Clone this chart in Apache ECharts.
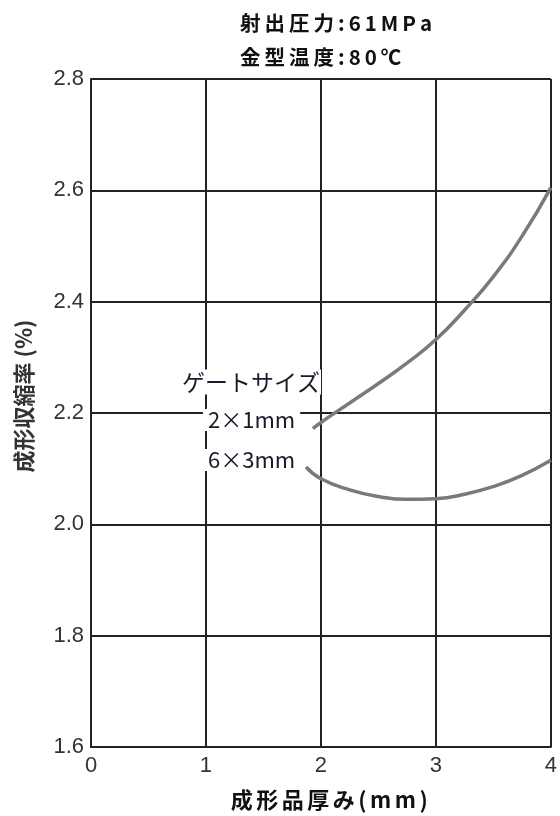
<!DOCTYPE html>
<html>
<head>
<meta charset="utf-8">
<script src="https://cdn.jsdelivr.net/npm/echarts@6/dist/echarts.min.js"></script>
<style>
  html, body { margin: 0; padding: 0; background: #fff; }
  #main { width: 560px; height: 816px; }
</style>
</head>
<body>
<div id="main"></div>
<script>
// 成形品厚み (mm)
var thickness = [0, 1, 2, 3, 4];
var yTicks = [1.6, 1.8, 2.0, 2.2, 2.4, 2.6, 2.8];

// ゲートサイズ 2×1mm
var gate2x1X = [1.93, 2.0, 2.25, 2.5, 2.75, 3.0, 3.25, 3.5, 3.75, 4.0];
var gate2x1Y = [2.172, 2.183, 2.218, 2.253, 2.29, 2.332, 2.385, 2.445, 2.518, 2.605];

// ゲートサイズ 6×3mm
var gate6x3X = [1.87, 2.0, 2.25, 2.5, 2.75, 3.0, 3.25, 3.5, 3.75, 4.0];
var gate6x3Y = [2.103, 2.082, 2.062, 2.05, 2.045, 2.046, 2.054, 2.068, 2.088, 2.115];

var titleLines = ['射出圧力:61MPa', '金型温度:80℃'];
var xName = '成形品厚み(mm)';
var yName = '成形収縮率 (%)';
var gateTitle = 'ゲートサイズ';
var gateNames = ['2×1mm', '6×3mm'];

var labelFont = '"Liberation Sans", Arial, sans-serif';
var jpFont = '"Noto Sans CJK JP", sans-serif';

function pairs(xs, ys) {
  return xs.map(function (x, i) { return [x, ys[i]]; });
}

// letterSpacing の代わりに一文字ずつ幅を決めて並べる
var measureCtx = document.createElement('canvas').getContext('2d');
function spacedText(str, size, spacing, color) {
  measureCtx.font = 'bold ' + size + 'px ' + jpFont;
  var rich = {};
  var text = str.split('').map(function (ch, i) {
    var w = measureCtx.measureText(ch).width + spacing;
    rich['t' + i] = {
      width: w, align: 'center',
      fontFamily: jpFont, fontWeight: 'bold', fontSize: size, fill: color
    };
    return '{t' + i + '|' + ch + '}';
  }).join('');
  return { text: text, rich: rich, verticalAlign: 'middle' };
}

var chart = echarts.init(document.getElementById('main'), null, { renderer: 'canvas' });

var option = {
  backgroundColor: '#fff',
  animation: false,
  grid: { left: 91, right: 7, top: 79, bottom: 69 },
  xAxis: {
    type: 'value',
    min: 0,
    max: 4,
    interval: 1,
    axisLine: { show: true, lineStyle: { color: '#222', width: 2 } },
    axisTick: { show: false },
    axisLabel: {
      margin: 8,
      fontFamily: labelFont, fontSize: 22, color: '#333',
      formatter: function (v) { return thickness.indexOf(v) >= 0 ? String(v) : ''; }
    },
    splitLine: { show: true, lineStyle: { color: '#222', width: 2 } }
  },
  yAxis: {
    type: 'value',
    min: 1.6,
    max: 2.8,
    interval: 0.2,
    axisLine: { show: true, lineStyle: { color: '#222', width: 2 } },
    axisTick: { show: false },
    axisLabel: {
      margin: 7,
      fontFamily: labelFont, fontSize: 22, color: '#333',
      formatter: function (v) { return v.toFixed(1); }
    },
    splitLine: { show: true, lineStyle: { color: '#222', width: 2 } }
  },
  graphic: [
    { type: 'text', x: 238, y: 23, style: spacedText(titleLines[0], 20.5, 4, '#111') },
    { type: 'text', x: 238, y: 57, style: spacedText(titleLines[1], 20.5, 4, '#111') },
    { type: 'text', x: 229, y: 800, style: spacedText(xName, 22, 3.5, '#111') },
    {
      type: 'text', x: 24, y: 396, rotation: Math.PI / 2,
      style: {
        text: yName, fontFamily: jpFont, fontWeight: 'bold', fontSize: 22, fill: '#333',
        align: 'center', verticalAlign: 'middle'
      }
    },
    {
      type: 'text', x: 181, y: 382, z: 100,
      style: {
        text: gateTitle, fontFamily: jpFont, fontSize: 23, fill: '#1a1a2a',
        verticalAlign: 'middle', backgroundColor: '#fff', padding: [1, 1]
      }
    },
    {
      type: 'text', x: 203, y: 420, z: 100,
      style: {
        text: gateNames[0], fontFamily: jpFont, fontSize: 22, fill: '#1a1a2a',
        verticalAlign: 'middle', backgroundColor: '#fff', padding: [0, 5]
      }
    },
    {
      type: 'text', x: 203, y: 460, z: 100,
      style: {
        text: gateNames[1], fontFamily: jpFont, fontSize: 22, fill: '#1a1a2a',
        verticalAlign: 'middle', backgroundColor: '#fff', padding: [0, 5]
      }
    }
  ],
  series: [
    {
      name: gateNames[0],
      type: 'line',
      smooth: true,
      showSymbol: false,
      data: pairs(gate2x1X, gate2x1Y),
      lineStyle: { color: '#7a7a7a', width: 3.5 },
      z: 5
    },
    {
      name: gateNames[1],
      type: 'line',
      smooth: true,
      showSymbol: false,
      data: pairs(gate6x3X, gate6x3Y),
      lineStyle: { color: '#7a7a7a', width: 3.5 },
      z: 5
    }
  ]
};
chart.setOption(option);
</script>
</body>
</html>
